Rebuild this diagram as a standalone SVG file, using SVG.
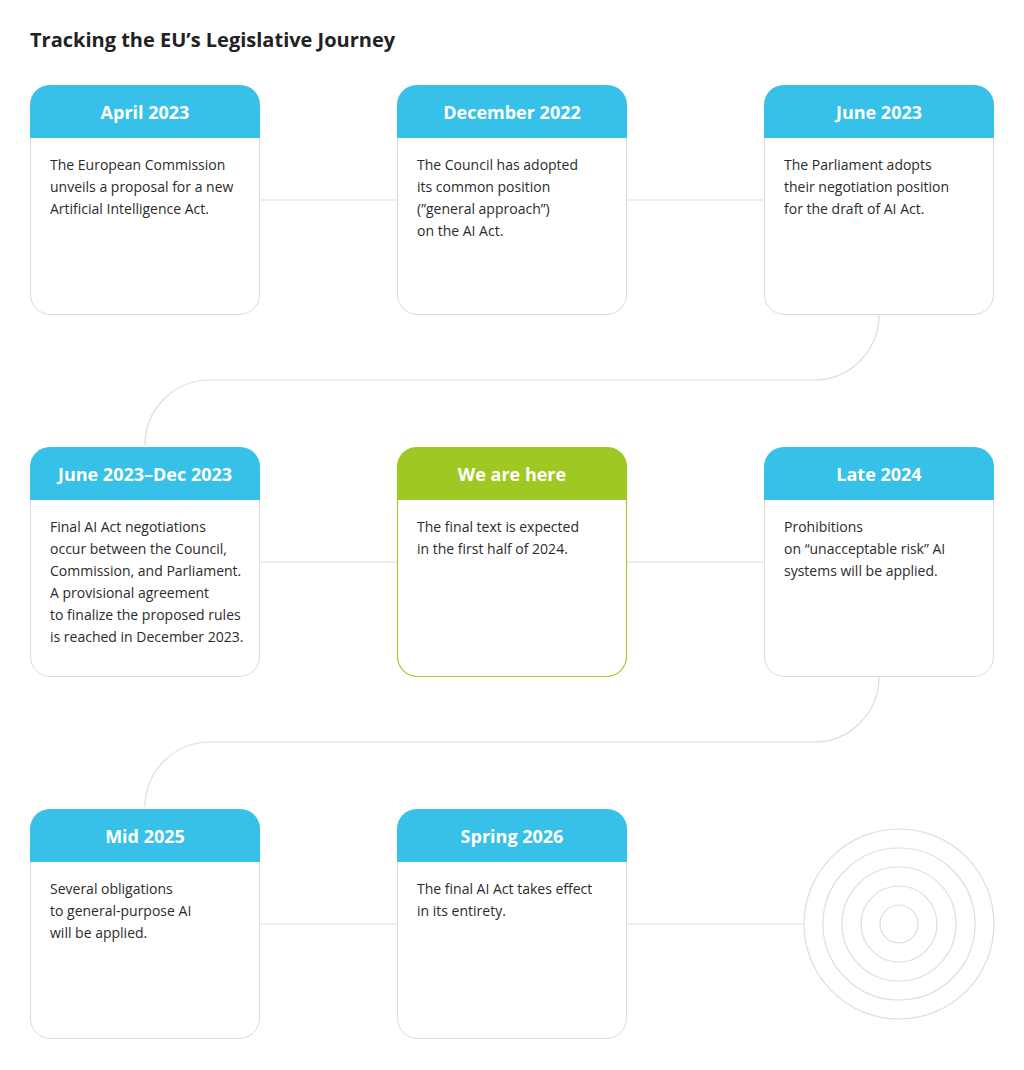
<svg xmlns="http://www.w3.org/2000/svg" width="1024" height="1070" viewBox="0 0 1024 1070">
<style>
.bg{fill:#ffffff}
.title{font-family:"Open Sans","Liberation Sans",sans-serif;font-weight:700;font-size:20px;fill:#222222}
.card{fill:#ffffff;stroke:#dadada;stroke-width:1}
.cardg{fill:#ffffff;stroke:#a6cb2e;stroke-width:1.2}
.hdr{fill:#38c1e8}
.hdrg{fill:#a0c823}
.htxt{font-family:"Open Sans","Liberation Sans",sans-serif;font-weight:700;font-size:18px;fill:#ffffff;text-anchor:middle}
.btxt{font-family:"Open Sans","Liberation Sans",sans-serif;font-size:14px;fill:#2b2b2b}
.conn{fill:none;stroke:#dedede;stroke-width:1.2}
</style>
<rect class="bg" x="0" y="0" width="1024" height="1070"/>
<text class="title" x="30" y="47">Tracking the EU’s Legislative Journey</text>

<g id="connectors">
<path class="conn" d="M260,200 H397 M627,200 H764"/>
<path class="conn" d="M879,315 A65,65 0 0 1 814,380 H210 A65,65 0 0 0 145,445"/>
<path class="conn" d="M260,562 H397 M627,562 H764"/>
<path class="conn" d="M879,677 A65,65 0 0 1 814,742 H210 A65,65 0 0 0 145,807"/>
<path class="conn" d="M260,924 H397 M627,924 H804"/>
</g>

<g id="node-apr2023">
<rect class="card" x="30.5" y="85.5" width="229" height="229" rx="20"/>
<path class="hdr" d="M30,105 a20,20 0 0 1 20,-20 h190 a20,20 0 0 1 20,20 v33 h-230 z"/>
<text class="htxt" x="145" y="119">April 2023</text>
<text class="btxt" x="50" y="170">The European Commission</text>
<text class="btxt" x="50" y="192">unveils a proposal for a new</text>
<text class="btxt" x="50" y="214">Artificial Intelligence Act.</text>
</g>

<g id="node-dec2022">
<rect class="card" x="397.5" y="85.5" width="229" height="229" rx="20"/>
<path class="hdr" d="M397,105 a20,20 0 0 1 20,-20 h190 a20,20 0 0 1 20,20 v33 h-230 z"/>
<text class="htxt" x="512" y="119">December 2022</text>
<text class="btxt" x="417" y="170">The Council has adopted</text>
<text class="btxt" x="417" y="192">its common position</text>
<text class="btxt" x="417" y="214">(”general approach”)</text>
<text class="btxt" x="417" y="236">on the AI Act.</text>
</g>

<g id="node-jun2023">
<rect class="card" x="764.5" y="85.5" width="229" height="229" rx="20"/>
<path class="hdr" d="M764,105 a20,20 0 0 1 20,-20 h190 a20,20 0 0 1 20,20 v33 h-230 z"/>
<text class="htxt" x="879" y="119">June 2023</text>
<text class="btxt" x="784" y="170">The Parliament adopts</text>
<text class="btxt" x="784" y="192">their negotiation position</text>
<text class="btxt" x="784" y="214">for the draft of AI Act.</text>
</g>

<g id="node-jun-dec2023">
<rect class="card" x="30.5" y="447.5" width="229" height="229" rx="20"/>
<path class="hdr" d="M30,467 a20,20 0 0 1 20,-20 h190 a20,20 0 0 1 20,20 v33 h-230 z"/>
<text class="htxt" x="145" y="481">June 2023–Dec 2023</text>
<text class="btxt" x="50" y="532">Final AI Act negotiations</text>
<text class="btxt" x="50" y="554">occur between the Council,</text>
<text class="btxt" x="50" y="576">Commission, and Parliament.</text>
<text class="btxt" x="50" y="598">A provisional agreement</text>
<text class="btxt" x="50" y="620">to finalize the proposed rules</text>
<text class="btxt" x="50" y="642">is reached in December 2023.</text>
</g>

<g id="node-we-are-here">
<rect class="cardg" x="397.5" y="447.5" width="229" height="229" rx="20"/>
<path class="hdrg" d="M397,467 a20,20 0 0 1 20,-20 h190 a20,20 0 0 1 20,20 v33 h-230 z"/>
<text class="htxt" x="512" y="481">We are here</text>
<text class="btxt" x="417" y="532">The final text is expected</text>
<text class="btxt" x="417" y="554">in the first half of 2024.</text>
</g>

<g id="node-late2024">
<rect class="card" x="764.5" y="447.5" width="229" height="229" rx="20"/>
<path class="hdr" d="M764,467 a20,20 0 0 1 20,-20 h190 a20,20 0 0 1 20,20 v33 h-230 z"/>
<text class="htxt" x="879" y="481">Late 2024</text>
<text class="btxt" x="784" y="532">Prohibitions</text>
<text class="btxt" x="784" y="554">on “unacceptable risk” AI</text>
<text class="btxt" x="784" y="576">systems will be applied.</text>
</g>

<g id="node-mid2025">
<rect class="card" x="30.5" y="809.5" width="229" height="229" rx="20"/>
<path class="hdr" d="M30,829 a20,20 0 0 1 20,-20 h190 a20,20 0 0 1 20,20 v33 h-230 z"/>
<text class="htxt" x="145" y="843">Mid 2025</text>
<text class="btxt" x="50" y="894">Several obligations</text>
<text class="btxt" x="50" y="916">to general-purpose AI</text>
<text class="btxt" x="50" y="938">will be applied.</text>
</g>

<g id="node-spring2026">
<rect class="card" x="397.5" y="809.5" width="229" height="229" rx="20"/>
<path class="hdr" d="M397,829 a20,20 0 0 1 20,-20 h190 a20,20 0 0 1 20,20 v33 h-230 z"/>
<text class="htxt" x="512" y="843">Spring 2026</text>
<text class="btxt" x="417" y="894">The final AI Act takes effect</text>
<text class="btxt" x="417" y="916">in its entirety.</text>
</g>

<g id="node-target" fill="none" stroke="#dedede" stroke-width="1.2">
<circle cx="899" cy="924" r="95"/>
<circle cx="899" cy="924" r="76"/>
<circle cx="899" cy="924" r="57"/>
<circle cx="899" cy="924" r="38"/>
<circle cx="899" cy="924" r="19"/>
</g>
</svg>
